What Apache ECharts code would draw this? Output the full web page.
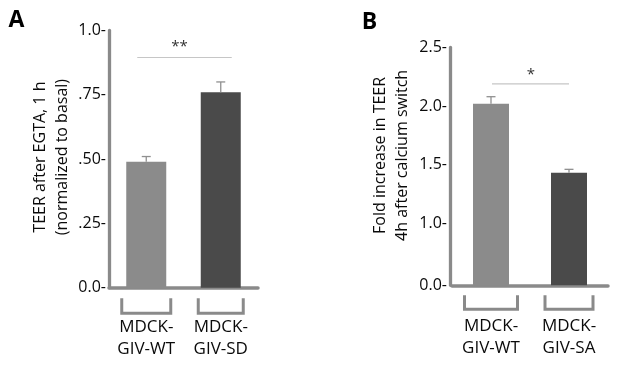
<!DOCTYPE html>
<html><head><meta charset="utf-8">
<script src="https://cdn.jsdelivr.net/npm/echarts@6/dist/echarts.min.js"></script>
<style>html,body{margin:0;padding:0;background:#fff}#c{width:617px;height:367px}</style>
</head><body><div id="c"></div>
<script>
// ---- Panel A data ----
const catsA = ['MDCK-\nGIV-WT', 'MDCK-\nGIV-SD'];
const valsA = [0.49, 0.76];
const errA = [0.02, 0.04];
const ticksA = [0, 0.25, 0.5, 0.75, 1.0];
const tickLabelsA = ['0.0', '.25', '.50', '.75', '1.0'];
const titleA = 'TEER after EGTA, 1 h\n(normalized to basal)';
const sigA = 0.895;
const starsA = '**';

// ---- Panel B data (broken axis: lowest tick is labelled 0.0) ----
const catsB = ['MDCK-\nGIV-WT', 'MDCK-\nGIV-SA'];
const valsB = [2.02, 1.43];
const errB = [0.06, 0.03];
const ticksB = [0.47, 1.0, 1.5, 2.0, 2.5];
const tickLabelsB = ['0.0', '1.0', '1.5', '2.0', '2.5'];
const titleB = 'Fold increase in TEER\n4h after calcium switch';
const sigB = 2.19;
const starsB = '*';

const FONT = '"Open Sans", "DejaVu Sans", sans-serif';
const AXIS_GRAY = '#8a8a8a';
const BAR_COLORS = ['#8b8b8b', '#4a4a4a'];
const TEXT = '#0a0a0a';

function lbl(ticks, labels) {
  return function (v) {
    for (let i = 0; i < ticks.length; i++) if (Math.abs(ticks[i] - v) < 1e-6) return labels[i] + '-';
    return '';
  };
}

function xAxisCfg(grid, cats, margin) {
  return {
    type: 'category', gridIndex: grid, data: cats,
    axisLine: { lineStyle: { color: AXIS_GRAY, width: 3.5 } },
    axisTick: { show: false },
    axisLabel: { interval: 0, fontFamily: FONT, fontSize: 17, lineHeight: 22, color: TEXT, margin: margin }
  };
}

function yAxisCfg(grid, ticks, labels, title, opts) {
  return Object.assign({
    type: 'value', gridIndex: grid,
    min: ticks[0], max: ticks[ticks.length - 1],
    axisLine: { show: true, lineStyle: { color: AXIS_GRAY, width: 3.3 } },
    axisTick: { show: false, customValues: ticks },
    splitLine: { show: false },
    axisLabel: { customValues: ticks, formatter: lbl(ticks, labels), fontFamily: FONT, fontSize: 16, color: TEXT, margin: 3 },
    name: title, nameLocation: 'middle', nameRotate: 90,
    nameTextStyle: { fontFamily: FONT, fontSize: 16, lineHeight: 22, color: TEXT }
  }, opts);
}

function barSeries(i, vals, barWidth) {
  return {
    type: 'bar', xAxisIndex: i, yAxisIndex: i, barWidth: barWidth, clip: true,
    data: vals.map((v, k) => ({ value: v, itemStyle: { color: BAR_COLORS[k] } })),
    z: 2
  };
}

function errSeries(i, vals, errs) {
  return {
    type: 'custom', xAxisIndex: i, yAxisIndex: i, z: 3, silent: true,
    data: vals.map((v, k) => [k, v, v + errs[k]]),
    renderItem: function (params, api) {
      const base = api.coord([api.value(0), api.value(1)]);
      const top = api.coord([api.value(0), api.value(2)]);
      const st = { stroke: '#909090', lineWidth: 1.3 };
      return { type: 'group', children: [
        { type: 'line', shape: { x1: top[0], y1: base[1], x2: top[0], y2: top[1] }, style: st },
        { type: 'line', shape: { x1: top[0] - 4.5, y1: top[1], x2: top[0] + 4.5, y2: top[1] }, style: st }
      ]};
    }
  };
}

function bracketSeries(i, n, yMin, widths, dy0, dy1) {
  return {
    type: 'custom', xAxisIndex: i, yAxisIndex: i, z: 3, silent: true, clip: false,
    data: Array.from({ length: n }, (_, k) => [k]),
    renderItem: function (params, api) {
      const k = api.value(0);
      const p = api.coord([k, yMin]);
      const w = widths[k] / 2;
      return {
        type: 'polyline',
        shape: { points: [[p[0] - w, p[1] + dy0], [p[0] - w, p[1] + dy1], [p[0] + w, p[1] + dy1], [p[0] + w, p[1] + dy0]] },
        style: { stroke: AXIS_GRAY, lineWidth: 3, fill: null, lineJoin: 'miter' }
      };
    }
  };
}

function sigSeries(i, sig, stars, offL, offR, starDx, starDy) {
  return {
    type: 'custom', xAxisIndex: i, yAxisIndex: i, z: 3, silent: true, clip: false,
    data: [[0, 1, sig]],
    renderItem: function (params, api) {
      const a = api.coord([api.value(0), api.value(2)]);
      const b = api.coord([api.value(1), api.value(2)]);
      return { type: 'group', children: [
        { type: 'line', shape: { x1: a[0] + offL, y1: a[1], x2: b[0] + offR, y2: a[1] }, style: { stroke: '#c6c6c6', lineWidth: 1.2 } },
        { type: 'text', style: { text: stars, x: (a[0] + b[0]) / 2 + starDx, y: a[1] + starDy, align: 'center', verticalAlign: 'middle',
          font: '15px ' + FONT, fill: '#333' } }
      ]};
    }
  };
}

const chart = echarts.init(document.getElementById('c'), null, { renderer: 'canvas' });
chart.setOption({
  animation: false,
  backgroundColor: '#ffffff',
  grid: [
    { left: 109, top: 30.5, width: 149, height: 257.2 },
    { left: 452, top: 47.5, width: 156, height: 237.8 }
  ],
  xAxis: [xAxisCfg(0, catsA, 28), xAxisCfg(1, catsB, 30)],
  yAxis: [
    yAxisCfg(0, ticksA, tickLabelsA, titleA, { nameGap: 36,
      nameTextStyle: { fontFamily: FONT, fontSize: 16, lineHeight: 22, color: TEXT, padding: [0, 0, 0, 4] } }),
    yAxisCfg(1, ticksB, tickLabelsB, titleB, { nameGap: 37, offset: 2,
      nameTextStyle: { fontFamily: FONT, fontSize: 16, lineHeight: 22, color: TEXT, padding: [0, 0, 0, 22] } })
  ],
  graphic: [
    { type: 'text', style: { text: 'A', x: 16.5, y: 20, align: 'center', verticalAlign: 'middle', font: 'bold 23px ' + FONT, fill: '#000' } },
    { type: 'text', style: { text: 'B', x: 369.5, y: 22.5, align: 'center', verticalAlign: 'middle', font: 'bold 23px ' + FONT, fill: '#000' } }
  ],
  series: [
    barSeries(0, valsA, 40),
    errSeries(0, valsA, errA),
    bracketSeries(0, catsA.length, ticksA[0], [49, 45], 10.5, 25.5),
    sigSeries(0, sigA, starsA, -9, 11, -4, -11),
    barSeries(1, valsB, 36),
    errSeries(1, valsB, errB),
    bracketSeries(1, catsB.length, ticksB[0], [53, 48], 10, 24),
    sigSeries(1, sigB, starsB, 1, 0, 1, -9)
  ]
});
</script></body></html>
